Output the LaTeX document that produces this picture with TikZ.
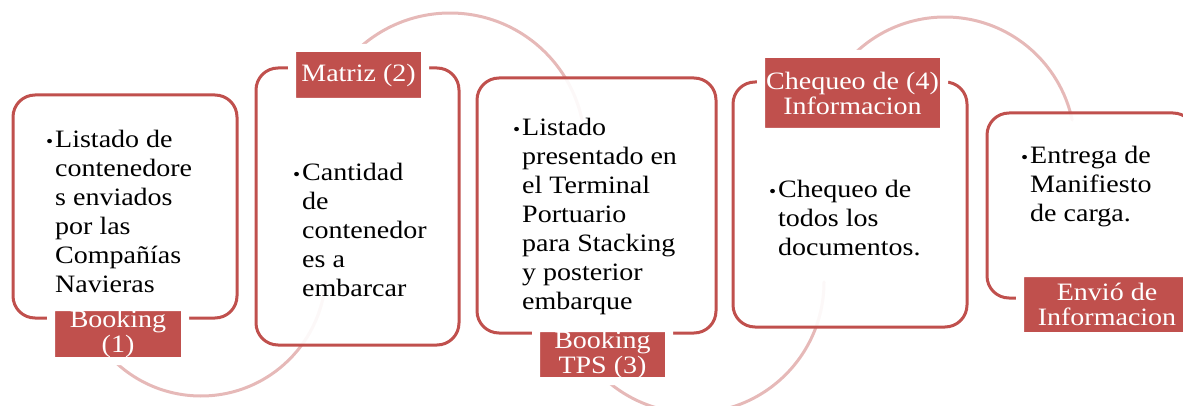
\documentclass[tikz,border=0pt]{standalone}
\usepackage{fontspec}
\setmainfont{Liberation Serif}[FakeStretch=1.12]
\definecolor{accred}{RGB}{192,80,77}
\newcommand{\bulletmark}{\llap{{\fontsize{18}{18}\selectfont\textbullet}\hspace{2pt}}}
\tikzset{
  stagebox/.style={draw=accred,line width=3pt,rounded corners=22pt,fill=white,fill opacity=0.9,inner sep=0pt},
  tabbox/.style={fill=accred,draw=white,line width=8pt,rounded corners=2pt,text=white,align=center,inner sep=0pt,font=\fontsize{25}{25}\selectfont},
  bodytext/.style={anchor=north west,align=left,inner sep=0pt,font=\fontsize{25}{29}\selectfont},
  linkarc/.style={draw=accred!40,line width=3pt}
}
\begin{document}
\begin{tikzpicture}[x=1pt,y=1pt,line cap=round,line join=round]
\useasboundingbox (0,0) rectangle (1183,405);
\clip (0,0) rectangle (1183,405);
\coordinate (c1) at (201,134);\coordinate (c2) at (450,257);\coordinate (c3) at (693,123);\coordinate (c4) at (945,258);
\draw[linkarc] (c1) ++(222:125) arc[start angle=222,end angle=355,radius=125];
\draw[linkarc] (c2) ++(140:135) arc[start angle=140,end angle=12,radius=135];
\draw[linkarc] (c3) ++(225:131) arc[start angle=225,end angle=360,radius=131];
\draw[linkarc] (c4) ++(140:130) arc[start angle=140,end angle=12,radius=130];
\foreach \n/\x/\y/\w/\h in {1/125/198.5/224/223,2/357.5/198.5/203/277,3/596.5/199.5/239/255,4/850/200.5/234/245,5/1091/199.5/208/185}{\node[stagebox,minimum width=\w,minimum height=\h] (box\n) at (\x,\y) {};}
\node[tabbox,minimum width=134,minimum height=54] (tab1) at (118,71) {Booking\\(1)};
\node[tabbox,minimum width=133,minimum height=54] (tab2) at (358.5,330) {Matriz (2)};
\node[tabbox,minimum width=133,minimum height=53] (tab3) at (602.5,50.5) {Booking\\TPS (3)};
\node[tabbox,minimum width=183,minimum height=78] (tab4) at (852.5,312) {Chequeo de (4)\\Informacion};
\node[tabbox,minimum width=174,minimum height=63] (tab5) at (1107,100.5) {Envió de\\Informacion};
\node[bodytext] (txt1) at (55,275) {\bulletmark Listado de\\contenedore\\s enviados\\por las\\Compañías\\Navieras};
\node[bodytext] (txt2) at (302,242) {\bulletmark Cantidad\\de\\contenedor\\es a\\embarcar};
\node[bodytext] (txt3) at (522,287) {\bulletmark Listado\\presentado en\\el Terminal\\Portuario\\para Stacking\\y posterior\\embarque};
\node[bodytext] (txt4) at (778,225) {\bulletmark Chequeo de\\todos los\\documentos.};
\node[bodytext] (txt5) at (1030,259) {\bulletmark Entrega de\\Manifiesto\\de carga.};
\end{tikzpicture}
\end{document}
